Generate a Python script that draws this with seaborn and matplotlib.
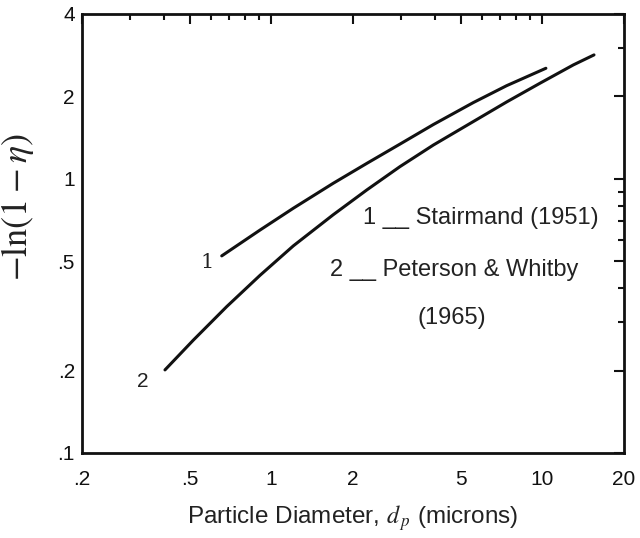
import numpy as np
import pandas as pd
import matplotlib
matplotlib.use("Agg")
import matplotlib.pyplot as plt
from matplotlib.ticker import FixedLocator, FixedFormatter, NullFormatter
import seaborn as sns

# Curve 1: Stairmand (1951)
stairmand_dp = [0.656, 0.908, 1.205, 1.69, 2.25, 2.98, 3.96, 5.56, 7.38, 10.3]
stairmand_y = [0.524, 0.651, 0.782, 0.964, 1.14, 1.34, 1.58, 1.90, 2.19, 2.535]
# Curve 2: Peterson & Whitby (1965)
peterson_dp = [0.405, 0.515, 0.684, 0.908, 1.205, 1.69, 2.25, 2.98, 3.96, 5.56, 7.38, 9.80, 13.0, 15.5]
peterson_y = [0.201, 0.258, 0.342, 0.445, 0.570, 0.74, 0.912, 1.109, 1.33, 1.62, 1.91, 2.236, 2.607, 2.836]

x_ticks = [0.2, 0.5, 1, 2, 5, 10, 20]
x_ticklabels = [".2", ".5", "1", "2", "5", "10", "20"]
y_ticks = [0.1, 0.2, 0.5, 1, 2, 4]
y_ticklabels = [".1", ".2", ".5", "1", "2", "4"]

df = pd.concat([
    pd.DataFrame({"dp": stairmand_dp, "y": stairmand_y, "curve": "1"}),
    pd.DataFrame({"dp": peterson_dp, "y": peterson_y, "curve": "2"}),
])

sns.set_style("white")
plt.rcParams["font.family"] = ["Liberation Sans", "DejaVu Sans"]
plt.rcParams["mathtext.fontset"] = "stix"

fig = plt.figure(figsize=(6.4, 5.38), dpi=100)
ax = fig.add_axes([0.128, 0.158, 0.847, 0.816])

sns.lineplot(data=df, x="dp", y="y", hue="curve", palette=["#111111", "#111111"],
             linewidth=2.2, legend=False, ax=ax, sort=True)

ax.set_xscale("log")
ax.set_yscale("log")
ax.set_xlim(0.2, 20)
ax.set_ylim(0.1, 4)

ax.xaxis.set_major_locator(FixedLocator(x_ticks))
ax.xaxis.set_major_formatter(FixedFormatter(x_ticklabels))
ax.yaxis.set_major_locator(FixedLocator(y_ticks))
ax.yaxis.set_major_formatter(FixedFormatter(y_ticklabels))
ax.xaxis.set_minor_locator(FixedLocator([0.3, 0.4, 0.6, 0.7, 0.8, 0.9, 3, 4, 6, 7, 8, 9]))
ax.yaxis.set_minor_locator(FixedLocator([0.3, 0.4, 0.6, 0.7, 0.8, 0.9, 3]))
ax.xaxis.set_minor_formatter(NullFormatter())
ax.yaxis.set_minor_formatter(NullFormatter())

ax.tick_params(which="both", direction="in", top=True, right=True, color="#111111",
               labelsize=15, labelcolor="#111111", width=1.5)
ax.tick_params(which="major", length=7)
ax.tick_params(which="minor", length=4)
ax.tick_params(axis="x", which="major", pad=12)
ax.tick_params(axis="y", which="major", pad=5)
for s in ax.spines.values():
    s.set_color("#111111")
    s.set_linewidth(2)

ax.set_xlabel(r"Particle Diameter, $d_{\,p}$ (microns)", fontsize=17.5, color="#222222")
ax.xaxis.set_label_coords(0.5, -0.115)
ax.set_ylabel(r"$-\ln\!\left(1-\eta\right)$", fontsize=26, color="#222222")
ax.yaxis.set_label_coords(-0.085, 0.56)

# curve labels
ax.text(0.231, 0.435, "1", transform=ax.transAxes, fontsize=15, family="DejaVu Serif",
        ha="center", va="center", color="#222222")
ax.text(0.113, 0.162, "2", transform=ax.transAxes, fontsize=15,
        ha="center", va="center", color="#222222")

# key
ax.text(0.518, 0.535, "1 __ Stairmand (1951)", transform=ax.transAxes, fontsize=17,
        ha="left", va="center", color="#222222")
ax.text(0.458, 0.417, "2 __ Peterson & Whitby", transform=ax.transAxes, fontsize=17,
        ha="left", va="center", color="#222222")
ax.text(0.683, 0.308, "(1965)", transform=ax.transAxes, fontsize=17,
        ha="center", va="center", color="#222222")

fig.savefig("out.png", dpi=100)
